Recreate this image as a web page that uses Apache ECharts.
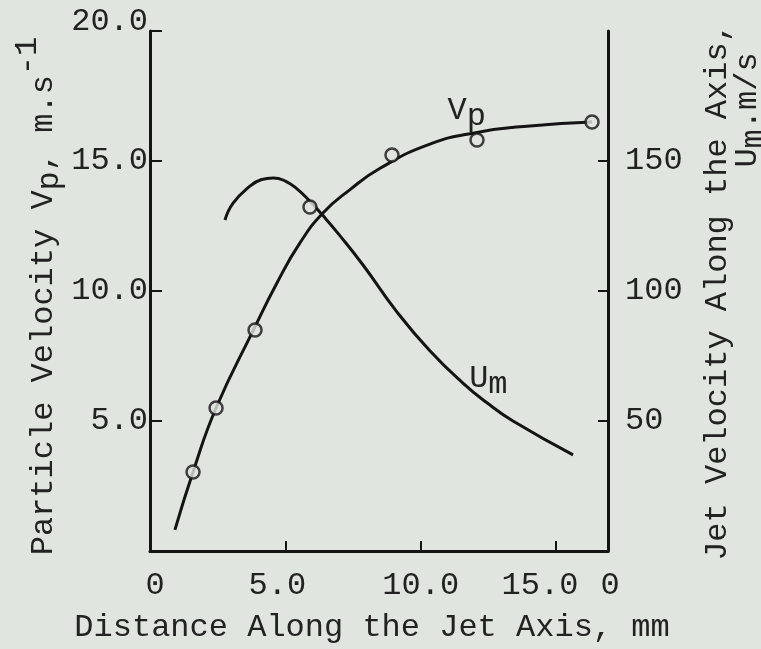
<!DOCTYPE html>
<html>
<head>
<meta charset="utf-8">
<title>Particle and jet velocity along the jet axis</title>
<script src="https://cdn.jsdelivr.net/npm/echarts@6/dist/echarts.min.js"></script>
<style>
	html, body { margin: 0; padding: 0; background: #e1e5df; }
	#chart { width: 761px; height: 649px; }
</style>
</head>
<body>
<div id="chart"></div>
<script>
// measured particle velocity (open circles), m/s, against distance in mm
var vpPointX = [1.59, 2.44, 3.88, 5.91, 8.94, 12.08, 16.33];
var vpPointY = [3.04, 5.5, 8.5, 13.23, 15.23, 15.81, 16.5];

// faired curve drawn through the Vp points
var vpCurveX = [0.92, 1.59, 2.44, 3.84, 4.69, 5.54, 6.39, 7.39, 8.5, 10.34, 12.08, 14.04, 16.33];
var vpCurveY = [0.81, 3.04, 5.5, 8.54, 10.31, 11.85, 13.0, 13.9, 14.72, 15.65, 16.1, 16.35, 16.5];

// jet velocity along the axis, right scale (m/s)
var umCurveX = [2.77, 3.07, 3.69, 4.1, 4.55, 5.0, 5.43, 5.91, 6.39, 7.0, 7.87, 9.12, 10.34, 11.56, 12.45, 13.41, 15.63];
var umCurveY = [127.3, 133.8, 140.3, 142.8, 143.5, 142.3, 139.3, 134.5, 129.0, 121.5, 110.0, 92.0, 77.0, 64.6, 57.0, 50.0, 37.0];

// axes
var xMax = 16.92;
var xTicks = [5, 10, 15];
var xLabelValues = [0, 5, 10, 15, xMax];
var leftTicks = [5, 10, 15, 20];
var rightTicks = [50, 100, 150];

// where the curve names sit (data coords)
var vpNameAt = [11.7, 16.96];
var umNameAt = [12.5, 66.5];

var ink = '#141414';
var txt = '#222222';
var mono = 'Liberation Mono';
var fs = 32;

function tok(extra) {
	var s = { fontFamily: mono, fontSize: fs, color: txt, fill: txt };
	for (var k in extra) s[k] = extra[k];
	return s;
}

function zipPts(xs, ys) {
	var out = [];
	for (var i = 0; i < xs.length; i++) out.push([xs[i], ys[i]]);
	return out;
}

function xLabel(v) {
	if (v === 0) return '{r5|0}';
	if (v > 16) return '{r2|0}';
	if (v === 5) return '{l8|5.0}';
	if (v === 15) return '{l16|15.0}';
	return '{n|' + v.toFixed(1) + '}';
}

// text for the titles (rich, sub/superscripts made by padding)
var richTitle = {
	m: tok({}),
	sb: tok({ padding: [12, 0, 0, 0] }),
	sp: tok({ padding: [0, 0, 32, 0] })
};

var chart = echarts.init(document.getElementById('chart'), null, { renderer: 'canvas' });

var option = {
	backgroundColor: '#e1e5df',
	animation: false,
	grid: { left: 150, top: 31, width: 458, height: 520 },
	xAxis: {
		type: 'value',
		min: 0,
		max: xMax,
		axisLine: { show: true, onZero: false, lineStyle: { color: ink, width: 3 } },
		axisTick: { show: true, inside: true, length: 10, customValues: xTicks, lineStyle: { color: ink, width: 2 } },
		axisLabel: {
			customValues: xLabelValues,
			margin: 19,
			fontFamily: mono, fontSize: fs, color: txt,
			formatter: xLabel,
			rich: {
				n: tok({}),
				r5: tok({ padding: [0, 0, 0, 10] }),
				r2: tok({ padding: [0, 0, 0, 4] }),
				l8: tok({ padding: [0, 16, 0, 0] }),
				l16: tok({ padding: [0, 32, 0, 0] })
			}
		},
		splitLine: { show: false }
	},
	yAxis: [{
		type: 'value',
		min: 0,
		max: 20,
		interval: 5,
		position: 'left',
		axisLine: { show: true, onZero: false, lineStyle: { color: ink, width: 3 } },
		axisTick: { show: true, inside: true, length: 12, customValues: leftTicks, lineStyle: { color: ink, width: 2 } },
		axisLabel: {
			customValues: leftTicks,
			margin: 2,
			fontFamily: mono, fontSize: fs, color: txt,
			formatter: function(v) {
				return v === 20 ? '{up|20.0}' : '{n|' + v.toFixed(1) + '}';
			},
			rich: { n: tok({}), up: tok({ padding: [0, 0, 18, 0] }) }
		},
		splitLine: { show: false }
	}, {
		type: 'value',
		min: 0,
		max: 200,
		interval: 50,
		position: 'right',
		axisLine: { show: true, onZero: false, lineStyle: { color: ink, width: 3 } },
		axisTick: { show: true, inside: true, length: 10, customValues: rightTicks, lineStyle: { color: ink, width: 2 } },
		axisLabel: {
			customValues: rightTicks,
			margin: 17,
			fontFamily: mono, fontSize: fs, color: txt
		},
		splitLine: { show: false }
	}],
	series: [{
		name: 'Vp curve',
		type: 'line',
		data: zipPts(vpCurveX, vpCurveY),
		smooth: 0.5,
		symbol: 'none',
		lineStyle: { color: ink, width: 3 },
		z: 2
	}, {
		name: 'Vp',
		type: 'scatter',
		data: zipPts(vpPointX, vpPointY),
		symbol: 'circle',
		symbolSize: 13,
		itemStyle: { color: '#e1e5df', borderColor: ink, borderWidth: 2.5 },
		z: 4
	}, {
		name: 'Um',
		type: 'line',
		yAxisIndex: 1,
		data: zipPts(umCurveX, umCurveY),
		smooth: 0.5,
		symbol: 'none',
		lineStyle: { color: ink, width: 3 },
		z: 3
	}]
};

chart.setOption(option);

var vpPx = chart.convertToPixel({ xAxisIndex: 0, yAxisIndex: 0 }, vpNameAt);
var umPx = chart.convertToPixel({ xAxisIndex: 0, yAxisIndex: 1 }, umNameAt);

chart.setOption({
	graphic: [{
		type: 'text',
		x: 44, y: 296,
		rotation: Math.PI / 2,
		style: {
			text: '{m|Particle Velocity V}{sb|p}{m|, m.s}{sp|-1}',
			rich: richTitle,
			align: 'center', verticalAlign: 'middle'
		}
	}, {
		type: 'text',
		x: 718, y: 292,
		rotation: Math.PI / 2,
		style: {
			text: '{m|Jet Velocity Along the Axis,}',
			rich: richTitle,
			align: 'center', verticalAlign: 'middle'
		}
	}, {
		type: 'text',
		x: 748, y: 110,
		rotation: Math.PI / 2,
		style: {
			text: '{m|U}{sb|m}{m|.m/s}',
			rich: richTitle,
			align: 'center', verticalAlign: 'middle'
		}
	}, {
		type: 'text',
		x: 372, y: 628,
		style: {
			text: '{m|Distance Along the Jet Axis, mm}',
			rich: richTitle,
			align: 'center', verticalAlign: 'middle'
		}
	}, {
		type: 'text',
		x: vpPx[0], y: vpPx[1],
		style: {
			text: '{m|V}{sb|p}',
			rich: richTitle,
			align: 'center', verticalAlign: 'middle'
		}
	}, {
		type: 'text',
		x: umPx[0], y: umPx[1],
		style: {
			text: '{m|U}{sb|m}',
			rich: richTitle,
			align: 'center', verticalAlign: 'middle'
		}
	}]
});
</script>
</body>
</html>
